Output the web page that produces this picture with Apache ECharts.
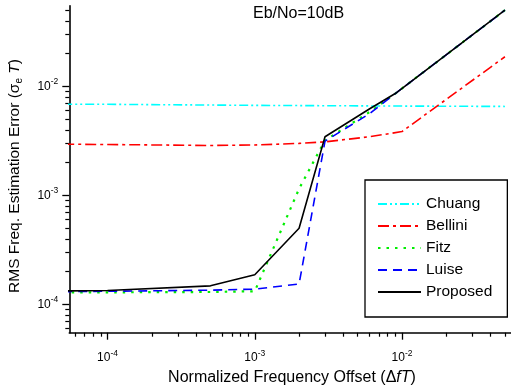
<!DOCTYPE html>
<html><head><meta charset="utf-8">
<script src="https://cdn.jsdelivr.net/npm/echarts@6/dist/echarts.min.js"></script>
<style>html,body{margin:0;padding:0;background:#fff}#c{width:511px;height:391px}</style>
</head><body><div id="c"></div>
<script>
// ---- data ----
const seriesNames = ['Chuang', 'Bellini', 'Fitz', 'Luise', 'Proposed'];
const chuangX = [5e-5, 1e-4, 1e-3, 3e-3, 1e-2, 5e-2];
const chuangY = [6.85e-3, 6.85e-3, 6.7e-3, 6.65e-3, 6.6e-3, 6.55e-3];
const belliniX = [5e-5, 1e-4, 5e-4, 1e-3, 2e-3, 3e-3, 6e-3, 1e-2, 5e-2];
const belliniY = [2.95e-3, 2.93e-3, 2.87e-3, 2.9e-3, 3.0e-3, 3.1e-3, 3.45e-3, 3.85e-3, 1.87e-2];
const fitzX = [5e-5, 1e-4, 5e-4, 1e-3, 2e-3, 3e-3, 6e-3, 9e-3, 5e-2];
const fitzY = [1.29e-4, 1.29e-4, 1.3e-4, 1.32e-4, 1.15e-3, 3.2e-3, 5.8e-3, 8.6e-3, 5.0e-2];
const luiseX = [5e-5, 1e-4, 5e-4, 1e-3, 2e-3, 3e-3, 6e-3, 9e-3, 5e-2];
const luiseY = [1.31e-4, 1.32e-4, 1.35e-4, 1.38e-4, 1.54e-4, 3.15e-3, 5.6e-3, 8.6e-3, 5.0e-2];
const proposedX = [5e-5, 1e-4, 5e-4, 1e-3, 2e-3, 3e-3, 6e-3, 9e-3, 5e-2];
const proposedY = [1.33e-4, 1.34e-4, 1.48e-4, 1.87e-4, 5.0e-4, 3.45e-3, 6.2e-3, 8.6e-3, 5.0e-2];
const xMajorTicks = [1e-4, 1e-3, 1e-2];
const xMinorTicks = [6e-5, 7e-5, 8e-5, 9e-5, 2e-4, 3e-4, 4e-4, 5e-4, 6e-4, 7e-4, 8e-4, 9e-4,
  2e-3, 3e-3, 4e-3, 5e-3, 6e-3, 7e-3, 8e-3, 9e-3, 2e-2, 3e-2, 4e-2, 5e-2];
const yMajorTicks = [1e-4, 1e-3, 1e-2];
const yMinorTicks = [6e-5, 7e-5, 8e-5, 9e-5, 2e-4, 3e-4, 4e-4, 5e-4, 6e-4, 7e-4, 8e-4, 9e-4,
  2e-3, 3e-3, 4e-3, 5e-3, 6e-3, 7e-3, 8e-3, 9e-3, 2e-2, 3e-2, 4e-2, 5e-2];
const titleText = 'Eb/No=10dB';

// ---- chart ----
const FONT = 'Liberation Sans, Arial, sans-serif';
const zip = (xs, ys) => xs.map((x, i) => [x, ys[i]]);
const styles = [
  {color: '#00FFFF', type: [9, 3, 2, 3, 2, 3], width: 1.6},
  {color: '#FF0000', type: [11, 4, 3, 4], width: 1.6},
  {color: '#00EE00', type: [2.5, 6], width: 2.2},
  {color: '#0000FF', type: [9, 6], width: 1.6},
  {color: '#000000', type: 'solid', width: 1.6}
];
const datasets = [zip(chuangX, chuangY), zip(belliniX, belliniY), zip(fitzX, fitzY),
  zip(luiseX, luiseY), zip(proposedX, proposedY)];

const XMIN = 5.5e-5, XMAX = 0.055, YMIN = 5.5e-5, YMAX = 0.055;
const powLabel = v => '{b|10}{s|' + Math.round(Math.log10(v)) + '}';
const richLbl = {
  b: {fontSize: 12, fontFamily: FONT, color: '#000'},
  s: {fontSize: 8.5, fontFamily: FONT, color: '#000', padding: [0, 0, 9, 0]}
};

const chart = echarts.init(document.getElementById('c'), null, {renderer: 'canvas'});
chart.setOption({
  animation: false,
  backgroundColor: '#fff',
  grid: {left: 69.3, top: 5.7, width: 445, height: 327, containLabel: false},
  xAxis: [
    {type: 'log', min: XMIN, max: XMAX, position: 'bottom',
      axisLine: {show: true, onZero: false, lineStyle: {color: '#000', width: 1.6}},
      axisTick: {show: true, inside: false, length: 7, customValues: xMajorTicks, lineStyle: {color: '#000', width: 1.3}},
      axisLabel: {show: true, margin: 16, customValues: xMajorTicks, formatter: powLabel, rich: richLbl},
      splitLine: {show: false}, minorTick: {show: false}},
    {type: 'log', min: XMIN, max: XMAX, position: 'bottom',
      axisLine: {show: false},
      axisTick: {show: true, inside: false, length: 4, customValues: xMinorTicks, lineStyle: {color: '#000', width: 1.2}},
      axisLabel: {show: false}, splitLine: {show: false}}
  ],
  yAxis: [
    {type: 'log', min: YMIN, max: YMAX, position: 'left',
      axisLine: {show: true, onZero: false, lineStyle: {color: '#000', width: 1.6}},
      axisTick: {show: true, inside: false, length: 7, customValues: yMajorTicks, lineStyle: {color: '#000', width: 1.3}},
      axisLabel: {show: true, margin: 11, customValues: yMajorTicks, formatter: powLabel, rich: richLbl},
      splitLine: {show: false}, minorTick: {show: false}},
    {type: 'log', min: YMIN, max: YMAX, position: 'left',
      axisLine: {show: false},
      axisTick: {show: true, inside: false, length: 4, customValues: yMinorTicks, lineStyle: {color: '#000', width: 1.2}},
      axisLabel: {show: false}, splitLine: {show: false}}
  ],
  legend: {
    show: true, orient: 'vertical', left: 365, top: 180,
    data: seriesNames,
    itemWidth: 43, itemHeight: 14, itemGap: 6,
    padding: [16, 15, 17, 12],
    borderColor: '#000', borderWidth: 1.3,
    itemStyle: {opacity: 0},
    textStyle: {fontSize: 15.5, fontFamily: FONT, color: '#000'}
  },
  series: seriesNames.map((n, i) => ({
    name: n, type: 'line', xAxisIndex: 0, yAxisIndex: 0,
    data: datasets[i], showSymbol: false, symbol: 'none', clip: true,
    lineStyle: styles[i], itemStyle: {color: styles[i].color}, z: 2 + i
  })),
  graphic: [
    {type: 'text', left: 253, top: 5.5, style: {text: titleText, font: '16px ' + FONT, fill: '#000'}},
    {type: 'text', x: 292, y: 378, style: {
      text: '{a|Normalized Frequency Offset (Δ}{i|fT}{a|)}',
      align: 'center', verticalAlign: 'middle',
      rich: {a: {fontSize: 16, fontFamily: FONT, color: '#000'}, i: {fontSize: 16, fontFamily: FONT, fontStyle: 'italic', color: '#000'}}
    }},
    {type: 'text', x: 15, y: 176, rotation: Math.PI / 2, style: {
      text: '{a|RMS Freq. Estimation Error (σ}{e|e}{a| }{i|T}{a|)}',
      align: 'center', verticalAlign: 'middle',
      rich: {a: {fontSize: 15.5, fontFamily: FONT, color: '#000'},
        e: {fontSize: 10, fontFamily: FONT, color: '#000', padding: [8, 0, 0, 0]},
        i: {fontSize: 15.5, fontFamily: FONT, fontStyle: 'italic', color: '#000'}}
    }}
  ]
});
</script></body></html>
